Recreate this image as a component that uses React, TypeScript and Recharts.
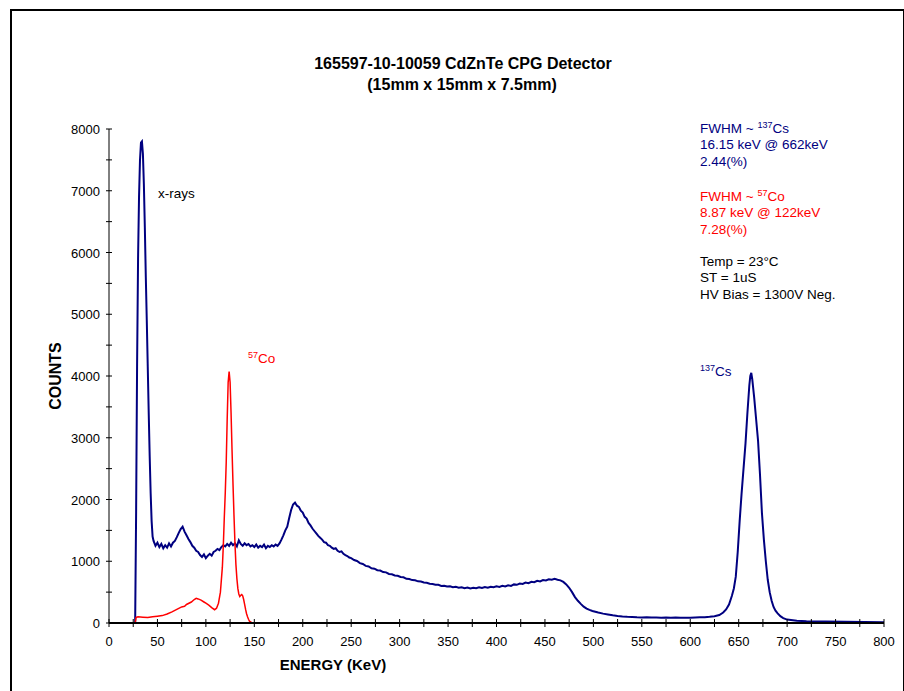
import React from "react"
import { LineChart, Line, XAxis, YAxis } from "recharts"

// 137Cs spectrum (blue) — energy in keV, counts
const csEnergy = [
  0, 27, 28, 29, 30, 31, 32, 33, 34, 35,
  36, 37, 38, 39, 40, 41, 42, 43, 44, 45,
  46, 47, 48, 50, 52, 54, 56, 58, 60, 62,
  64, 66, 68, 70, 72, 74, 76, 78, 80, 82,
  84, 86, 88, 90, 92, 94, 96, 98, 100, 102,
  104, 106, 108, 110, 112, 114, 116, 118, 120, 122,
  124, 126, 128, 130, 132, 134, 136, 138, 140, 142,
  144, 146, 148, 150, 152, 154, 156, 158, 160, 162,
  164, 166, 168, 170, 172, 174, 176, 178, 180, 182,
  184, 186, 188, 190, 192, 194, 196, 198, 200, 202,
  204, 206, 208, 210, 212, 214, 216, 218, 220, 222,
  224, 226, 228, 230, 232, 234, 236, 238, 240, 242,
  244, 246, 248, 250, 253, 256, 259, 262, 265, 268,
  271, 274, 277, 280, 283, 286, 289, 292, 295, 298,
  301, 304, 307, 310, 313, 316, 319, 322, 325, 328,
  331, 334, 337, 340, 343, 346, 349, 352, 355, 358,
  361, 364, 367, 370, 373, 376, 379, 382, 385, 388,
  391, 394, 397, 400, 403, 406, 409, 412, 415, 418,
  421, 424, 427, 430, 433, 436, 439, 442, 445, 448,
  451, 454, 457, 460, 463, 466, 469, 472, 475, 478,
  481, 484, 487, 490, 493, 496, 499, 502, 505, 510,
  515, 520, 525, 530, 535, 540, 545, 550, 555, 560,
  565, 570, 575, 580, 585, 590, 595, 600, 605, 610,
  615, 620, 625, 630, 634, 637, 640, 643, 645, 647,
  649, 651, 653, 655, 657, 659, 661, 662, 663, 664,
  666, 668, 670, 672, 674, 676, 678, 680, 682, 684,
  686, 688, 690, 693, 696, 700, 710, 720, 740, 760,
  780, 800,
]
const csCounts = [
  0, 0, 1800, 4200, 5900, 6900, 7500, 7780, 7800, 7600,
  7100, 6400, 5600, 4900, 4150, 3400, 2700, 2100, 1650, 1400,
  1330, 1290, 1250, 1300, 1230, 1280, 1210, 1260, 1220, 1290,
  1240, 1300, 1330, 1390, 1460, 1520, 1560, 1480, 1420, 1360,
  1310, 1250, 1220, 1170, 1150, 1100, 1070, 1110, 1050, 1090,
  1120, 1090, 1150, 1170, 1200, 1180, 1230, 1260, 1240, 1280,
  1250, 1300, 1260, 1290, 1240, 1340, 1280, 1250, 1290, 1260,
  1280, 1240, 1260, 1230, 1270, 1220, 1250, 1230, 1270, 1210,
  1250, 1230, 1260, 1240, 1270, 1250, 1290, 1350, 1420, 1500,
  1560, 1700, 1830, 1920, 1950, 1900, 1880, 1820, 1790, 1720,
  1690, 1620, 1580, 1530, 1490, 1450, 1410, 1380, 1350, 1310,
  1300, 1260, 1250, 1220, 1200, 1210, 1170, 1150, 1160, 1120,
  1100, 1085, 1060, 1050, 1020, 1005, 970, 955, 925, 915,
  885, 880, 855, 850, 825, 820, 795, 790, 770, 765,
  745, 740, 715, 712, 695, 692, 675, 672, 655, 652,
  635, 632, 620, 618, 600, 604, 590, 594, 578, 585,
  572, 580, 565, 575, 560, 572, 562, 578, 566, 582,
  570, 588, 578, 595, 585, 602, 592, 612, 600, 625,
  618, 640, 632, 655, 645, 668, 660, 682, 672, 695,
  688, 708, 700, 715, 700, 690, 665, 625, 570, 500,
  420, 360, 310, 265, 232, 212, 195, 182, 170, 152,
  138, 124, 114, 106, 100, 96, 92, 90, 92, 88,
  90, 86, 89, 85, 88, 84, 87, 86, 89, 92,
  95, 100, 110, 130, 170, 220, 300, 440, 560, 750,
  1150, 1650, 2100, 2500, 2900, 3400, 3850, 4000, 4050, 3950,
  3650, 3300, 2950, 2400, 1780, 1350, 1000, 700, 500, 360,
  260, 200, 160, 110, 80, 55, 38, 30, 24, 20,
  16, 12,
]

// 57Co spectrum (red)
const coEnergy = [
  0, 27, 28, 30, 35, 40, 45, 50, 55, 60,
  65, 70, 75, 78, 80, 85, 88, 90, 92, 95,
  98, 100, 103, 106, 109, 111, 113, 115, 117, 118,
  119, 120, 121, 122, 123, 124, 125, 126, 127, 128,
  129, 130, 131, 132, 133, 134, 135, 136, 137, 138,
  139, 140, 141, 142, 143, 144, 145, 147, 150, 800,
]
const coCounts = [
  0, 0, 90, 100, 95, 90, 100, 110, 120, 145,
  180, 220, 260, 270, 300, 340, 380, 400, 390, 370,
  340, 320, 290, 250, 215, 240, 320, 500, 900, 1250,
  1700, 2100, 2600, 3300, 3900, 4070, 3900, 3400, 2800, 2250,
  1750, 1300, 950, 720, 560, 470, 430, 450, 460, 440,
  380, 300, 220, 150, 100, 60, 30, 10, 0, 0,
]

const xTicks = [
  0, 25, 50, 75, 100, 125, 150, 175, 200, 225, 250, 275, 300, 325, 350, 375, 400,
  425, 450, 475, 500, 525, 550, 575, 600, 625, 650, 675, 700, 725, 750, 775, 800,
]
const yTicks = [
  0, 500, 1000, 1500, 2000, 2500, 3000, 3500, 4000, 4500, 5000, 5500, 6000, 6500, 7000, 7500, 8000,
]

const BLUE = "#000080"
const RED = "#ff0000"
const FONT = "'Liberation Sans', Arial, sans-serif"

const csData = csEnergy.map((e, i) => ({ e, c: csCounts[i] }))
const coData = coEnergy.map((e, i) => ({ e, c: coCounts[i] }))

const XTick = ({ x, y, payload }: any) => (
  <g>
    <line x1={x} x2={x} y1={y - 4} y2={y + 4} stroke="#000" strokeWidth={1} />
    {payload.value % 50 === 0 && (
      <text x={x} y={y + 23} textAnchor="middle" fontSize={13} fontFamily={FONT} fill="#000">
        {payload.value}
      </text>
    )}
  </g>
)

const YTick = ({ x, y, payload }: any) => (
  <g>
    <line x1={x - 3} x2={x + 3} y1={y} y2={y} stroke="#000" strokeWidth={1} />
    {payload.value % 1000 === 0 && (
      <text x={x - 9} y={y + 5} textAnchor="end" fontSize={13} fontFamily={FONT} fill="#000">
        {payload.value}
      </text>
    )}
  </g>
)

const ANN = 13.5
const SUP = 9

export default function App() {
  return (
    <div style={{ position: "absolute", left: 0, top: 0, width: 904, height: 691, overflow: "hidden", background: "#fff" }}>
      <div
        style={{
          position: "absolute",
          left: 10,
          top: 9,
          width: 891,
          height: 720,
          border: "2px solid #000",
        }}
      />
      <div style={{ position: "absolute", left: 0, top: 0 }}>
        <LineChart width={904} height={691} margin={{ top: 129, right: 20, left: 49, bottom: 38 }}>
          <XAxis
            type="number"
            dataKey="e"
            domain={[0, 800]}
            ticks={xTicks}
            interval={0}
            height={30}
            tickSize={0}
            tickMargin={0}
            tickLine={false}
            axisLine={{ stroke: "#000", strokeWidth: 2 }}
            tick={<XTick />}
            allowDataOverflow
          />
          <YAxis
            type="number"
            domain={[0, 8000]}
            ticks={yTicks}
            interval={0}
            width={60}
            tickSize={0}
            tickMargin={0}
            tickLine={false}
            axisLine={{ stroke: "#000", strokeWidth: 1 }}
            tick={<YTick />}
            allowDataOverflow
          />
          <Line
            data={csData}
            dataKey="c"
            type="linear"
            stroke={BLUE}
            strokeWidth={2}
            dot={false}
            activeDot={false}
            isAnimationActive={false}
          />
          <Line
            data={coData}
            dataKey="c"
            type="linear"
            stroke={RED}
            strokeWidth={1.5}
            dot={false}
            activeDot={false}
            isAnimationActive={false}
          />
        </LineChart>
      </div>
      <svg width={904} height={691} style={{ position: "absolute", left: 0, top: 0, pointerEvents: "none" }}>
        <g fontFamily={FONT}>
          <text x={463} y={69} textAnchor="middle" fontSize={16} fontWeight="bold" fill="#000">
            165597-10-10059 CdZnTe CPG Detector
          </text>
          <text x={462} y={90} textAnchor="middle" fontSize={16} fontWeight="bold" fill="#000">
            (15mm x 15mm x 7.5mm)
          </text>

          <text x={700} y={133} fontSize={ANN} fill={BLUE}>
            FWHM ~ <tspan fontSize={SUP} dy={-5}>137</tspan>
            <tspan dy={5}>Cs</tspan>
          </text>
          <text x={700} y={149} fontSize={ANN} fill={BLUE}>16.15 keV @ 662keV</text>
          <text x={700} y={166} fontSize={ANN} fill={BLUE}>2.44(%)</text>

          <text x={700} y={201} fontSize={ANN} fill={RED}>
            FWHM ~ <tspan fontSize={SUP} dy={-5}>57</tspan>
            <tspan dy={5}>Co</tspan>
          </text>
          <text x={700} y={217} fontSize={ANN} fill={RED}>8.87 keV @ 122keV</text>
          <text x={700} y={234} fontSize={ANN} fill={RED}>7.28(%)</text>

          <text x={700} y={266} fontSize={ANN} fill="#000">Temp = 23°C</text>
          <text x={700} y={282} fontSize={ANN} fill="#000">ST = 1uS</text>
          <text x={700} y={299} fontSize={ANN} fill="#000">HV Bias = 1300V Neg.</text>

          <text x={158} y={198} fontSize={ANN} fill="#000">x-rays</text>
          <text x={248} y={363} fontSize={ANN} fill={RED}>
            <tspan fontSize={SUP} dy={-5}>57</tspan>
            <tspan dy={5}>Co</tspan>
          </text>
          <text x={700} y={376} fontSize={ANN} fill={BLUE}>
            <tspan fontSize={SUP} dy={-5}>137</tspan>
            <tspan dy={5}>Cs</tspan>
          </text>

          <text
            x={55}
            y={376}
            transform="rotate(-90 55 376)"
            textAnchor="middle"
            dominantBaseline="central"
            fontSize={16}
            fontWeight="bold"
            fill="#000"
          >
            COUNTS
          </text>
          <text x={333} y={670} textAnchor="middle" fontSize={15} fontWeight="bold" fill="#000">
            ENERGY (KeV)
          </text>
        </g>
      </svg>
    </div>
  )
}
